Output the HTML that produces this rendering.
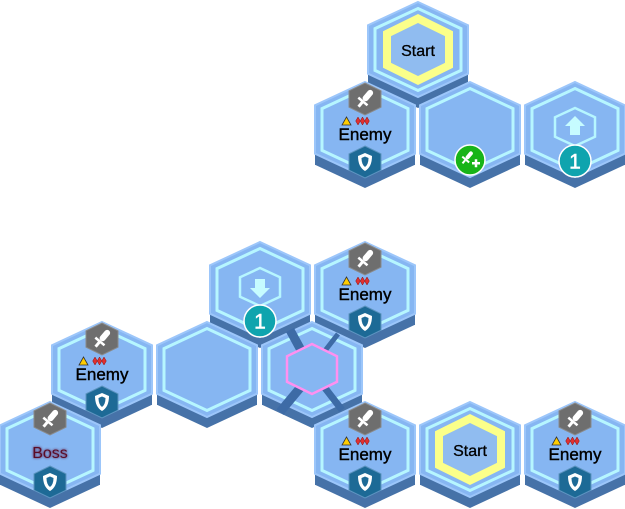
<!DOCTYPE html>
<html><head><meta charset="utf-8"><style>
html,body{margin:0;padding:0;background:#fff;width:625px;height:509px;overflow:hidden}
svg text{font-family:"Liberation Sans",Arial,sans-serif}
</style></head><body>
<svg id="s" width="625" height="509" viewBox="0 0 625 509" xmlns="http://www.w3.org/2000/svg">
<defs>
<filter id="glow" x="-30%" y="-50%" width="160%" height="200%"><feGaussianBlur stdDeviation="1.4" result="b"/><feMerge><feMergeNode in="b"/><feMergeNode in="SourceGraphic"/></feMerge></filter>
</defs>
</svg>
<script>
var s=document.getElementById('s');var out='';
function hp(cx,cy,w,h){var a=w/2,t=h/2,k=h*0.245;return [[cx,cy-t],[cx+a,cy-t+k],[cx+a,cy+t-k],[cx,cy+t],[cx-a,cy+t-k],[cx-a,cy-t+k]].map(p=>p[0].toFixed(1)+','+p[1].toFixed(1)).join(' ');}
function base(cx,t){var cy=t+47.5;out+='<polygon points="'+hp(cx,cy+11,100,95)+'" fill="#4672a8"/><rect x="'+(cx-50)+'" y="'+(t+23)+'" width="100" height="60" fill="#4672a8"/>';
out+='<polygon points="'+hp(cx,cy,100,95)+'" fill="#86b6f2" stroke="#9cc6fa" stroke-width="2"/>';
out+='<polygon points="'+hp(cx,cy,86,82)+'" fill="none" stroke="#b6f6ff" stroke-width="3"/>';}
function sword(cx,t){var cy=t+17;out+='<polygon points="'+hp(cx,cy,32,32)+'" fill="#6e6e6e" stroke="#8a8a8a" stroke-width="1"/>';
out+='<g transform="translate('+cx+','+cy+') rotate(40)" fill="#fff"><rect x="-3" y="-11" width="6" height="13" rx="3"/><rect x="-6" y="2" width="12" height="2.5"/><rect x="-1.5" y="4" width="3" height="6"/></g>';}
function shield(cx,t){var cy=t+80;out+='<polygon points="'+hp(cx,cy,32,32)+'" fill="#1d6a96" stroke="#5d94c0" stroke-width="1"/>';
out+='<path d="M'+(cx-7)+','+(cy-6)+' L'+cx+','+(cy-9)+' L'+(cx+7)+','+(cy-6)+' Q'+(cx+7)+','+(cy+5)+' '+cx+','+(cy+9)+' Q'+(cx-7)+','+(cy+5)+' '+(cx-7)+','+(cy-6)+'Z" fill="#fff"/><path d="M'+(cx-3.5)+','+(cy-4)+' L'+cx+','+(cy-5.5)+' L'+(cx+3.5)+','+(cy-4)+' Q'+(cx+3.5)+','+(cy+2.5)+' '+cx+','+(cy+5)+' Q'+(cx-3.5)+','+(cy+2.5)+' '+(cx-3.5)+','+(cy-4)+'Z" fill="#1d6a96"/>';}
function enemy(cx,t,boss){base(cx,t);sword(cx,t);shield(cx,t);
if(boss){out+='<text x="'+cx+'" y="'+(t+56)+'" font-size="16" text-anchor="middle" fill="#5a0a28" filter="url(#glow)">Boss</text>';return;}
out+='<polygon points="'+(cx-23)+','+(t+43)+' '+(cx-18.5)+','+(t+35)+' '+(cx-14)+','+(t+43)+'" fill="#ffcc00" stroke="#333" stroke-width="0.8"/>';
for(var i=0;i<3;i++){var x=cx-7+i*4.5;out+='<polygon points="'+x+','+(t+35)+' '+(x+2.3)+','+(t+39)+' '+x+','+(t+43)+' '+(x-2.3)+','+(t+39)+'" fill="#e03030" stroke="#8a1010" stroke-width="0.5"/>';}
out+='<text x="'+cx+'" y="'+(t+58)+'" font-size="17" text-anchor="middle" fill="#000" stroke="#000" stroke-width="0.4">Enemy</text>';}
function start(cx,t){base(cx,t);out+='<polygon points="'+hp(cx,t+47.5,62,62)+'" fill="#90bcf0" stroke="#fbff8a" stroke-width="8"/><text x="'+cx+'" y="'+(t+54)+'" font-size="16" text-anchor="middle" fill="#000" stroke="#000" stroke-width="0.3">Start</text>';}
function arrow(cx,t,up){base(cx,t);var cy=t+45;out+='<polygon points="'+hp(cx,cy,40,38)+'" fill="none" stroke="#b6f6ff" stroke-width="2.5"/>';
if(up)out+='<polygon points="'+cx+','+(cy-11)+' '+(cx+10)+','+(cy-1)+' '+(cx+5)+','+(cy-1)+' '+(cx+5)+','+(cy+8)+' '+(cx-5)+','+(cy+8)+' '+(cx-5)+','+(cy-1)+' '+(cx-10)+','+(cy-1)+'" fill="#c6fcff"/>';
else out+='<polygon points="'+cx+','+(cy+11)+' '+(cx+10)+','+(cy+1)+' '+(cx+5)+','+(cy+1)+' '+(cx+5)+','+(cy-8)+' '+(cx-5)+','+(cy-8)+' '+(cx-5)+','+(cy+1)+' '+(cx-10)+','+(cy+1)+'" fill="#c6fcff"/>';
out+='<circle cx="'+cx+'" cy="'+(t+79)+'" r="16" fill="#0fa4ae" stroke="#fff" stroke-width="1.5"/><text x="'+cx+'" y="'+(t+86.5)+'" font-size="21" text-anchor="middle" fill="#fff" stroke="#fff" stroke-width="0.5">1</text>';}
start(418,2);
enemy(365,82);base(470,82);
out+='<circle cx="470" cy="160" r="15" fill="#18b418" stroke="#fff" stroke-width="1.5"/><g transform="translate(467,158) rotate(40)" fill="#fff"><rect x="-2" y="-8" width="4" height="9" rx="2"/><rect x="-4.5" y="1" width="9" height="2"/><rect x="-1" y="3" width="2" height="4"/></g><rect x="472" y="162" width="8" height="2.5" fill="#fff"/><rect x="474.75" y="159.25" width="2.5" height="8" fill="#fff"/>';
arrow(575,82,true);
arrow(260,242,false);enemy(365,242);
enemy(102,322);base(207,322);base(312,322);
out+='<line x1="302" y1="352" x2="290" y2="330" stroke="#3d6ba6" stroke-width="9"/><line x1="324" y1="352" x2="338" y2="334" stroke="#3d6ba6" stroke-width="5"/><line x1="300" y1="388" x2="280" y2="412" stroke="#3d6ba6" stroke-width="9"/><line x1="325" y1="388" x2="342" y2="410" stroke="#3d6ba6" stroke-width="7"/>';
out+='<polygon points="'+hp(312,369,50,50)+'" fill="#86b6f2" stroke="#ff90f0" stroke-width="2.5"/>';
enemy(50,402,true);enemy(365,402);start(470,402);enemy(575,402);
s.insertAdjacentHTML('beforeend',out);
</script>
</body></html>
